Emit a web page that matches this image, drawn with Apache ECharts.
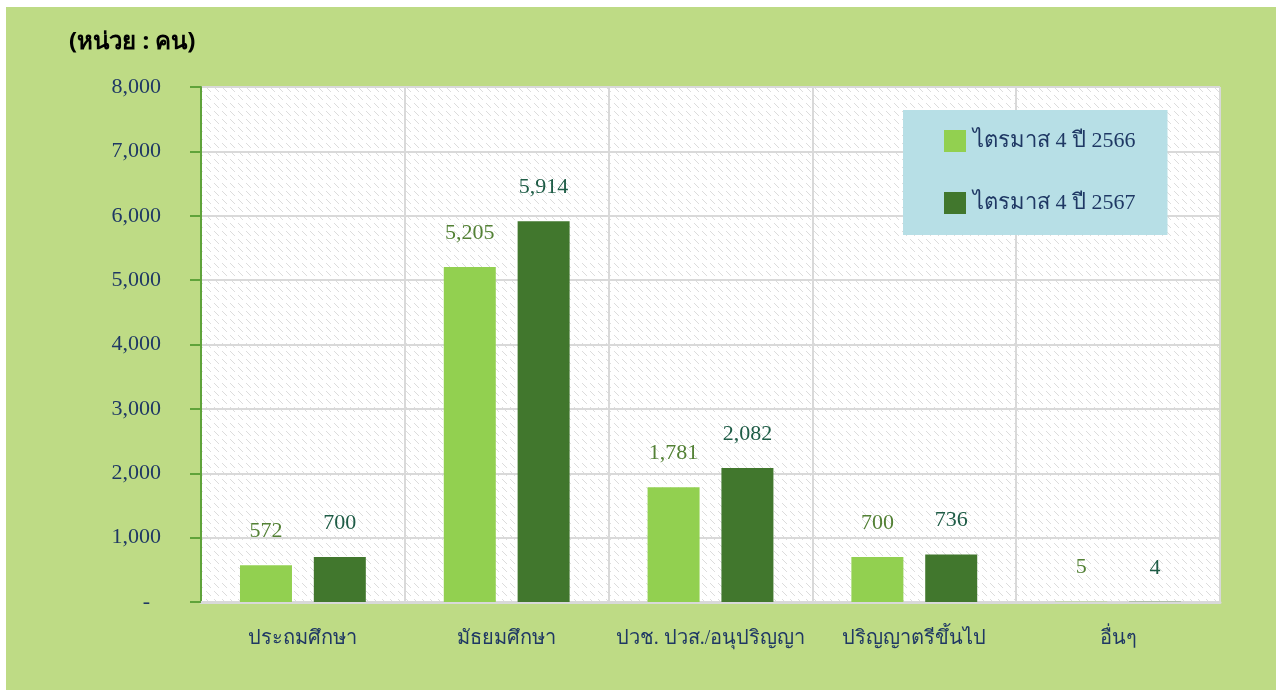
<!DOCTYPE html>
<html>
<head>
<meta charset="utf-8">
<script src="https://cdn.jsdelivr.net/npm/echarts@6/dist/echarts.min.js"></script>
<style>
  html, body { margin: 0; padding: 0; background: #ffffff; }
  #chart { position: absolute; left: 6px; top: 7px; width: 1270px; height: 683px; background: #bedb85; }
</style>
</head>
<body>
<div id="chart"></div>
<script>
// Data
const categories = ['ประถมศึกษา', 'มัธยมศึกษา', 'ปวช. ปวส./อนุปริญญา', 'ปริญญาตรีขึ้นไป', 'อื่นๆ'];
const seriesNames = ['ไตรมาส 4 ปี 2566', 'ไตรมาส 4 ปี 2567'];
const values2566 = [572, 5205, 1781, 700, 5];
const values2567 = [700, 5914, 2082, 736, 4];
const yMin = 0;
const yMax = 8000;
const yStep = 1000;

// Hatched plot-area fill (white with light gray dashed diagonals)
function makeHatch() {
    const c = document.createElement('canvas');
    c.width = 8;
    c.height = 8;
    const ctx = c.getContext('2d');
    ctx.fillStyle = '#ffffff';
    ctx.fillRect(0, 0, 8, 8);
    ctx.fillStyle = '#dcdcdc';
    for (let i = 0; i < 5; i++) {
        ctx.fillRect(i, i, 1, 1);
    }
    return c;
}

const serif = '"Liberation Serif", "Times New Roman", serif';
const navy = '#1f3864';

const chart = echarts.init(document.getElementById('chart'), null, { renderer: 'canvas' });

const fmt = v => v === 0 ? '-  ' : v.toLocaleString('en-US');

chart.setOption({
    animation: false,
    backgroundColor: '#bedb85',
    title: {
        text: '(หน่วย : คน)',
        left: 58,
        top: 18,
        textStyle: { fontSize: 24, fontWeight: 'bold', color: '#000000', fontFamily: '"Noto Sans", sans-serif' }
    },
    legend: {
        data: seriesNames,
        orient: 'vertical',
        left: 897,
        top: 103,
        backgroundColor: '#b7dfe6',
        padding: [20, 32, 21, 41],
        itemGap: 40,
        itemWidth: 22,
        itemHeight: 22,
        icon: 'rect',
        textStyle: { fontSize: 22, color: navy, fontFamily: serif, padding: [0, 0, 0, 2] }
    },
    grid: {
        left: 195,
        top: 80,
        right: 56,
        bottom: 88,
        show: true,
        borderWidth: 0,
        backgroundColor: { image: makeHatch(), repeat: 'repeat' }
    },
    xAxis: {
        type: 'category',
        data: categories,
        axisLine: { lineStyle: { color: '#d9d9d9', width: 3 } },
        axisTick: { show: false },
        splitLine: { show: true, interval: 0, lineStyle: { color: '#d9d9d9', width: 2 } },
        axisLabel: { interval: 0, color: navy, fontSize: 20, fontFamily: serif, margin: 27 }
    },
    yAxis: {
        type: 'value',
        min: yMin,
        max: yMax,
        interval: yStep,
        axisLine: { show: true, lineStyle: { color: '#5fa33a', width: 2 } },
        axisTick: { show: true, length: 11, lineStyle: { color: '#5fa33a', width: 2 } },
        splitLine: { lineStyle: { color: '#d9d9d9', width: 2 } },
        axisLabel: { color: navy, fontSize: 22, fontFamily: serif, margin: 40, formatter: fmt }
    },
    series: [
        {
            name: seriesNames[0],
            type: 'bar',
            data: values2566,
            barWidth: 52,
            barGap: '42%',
            itemStyle: { color: '#92d050' },
            label: {
                show: true, position: 'top', distance: 23,
                color: '#538135', fontSize: 22, fontFamily: serif,
                formatter: p => fmt(p.value)
            }
        },
        {
            name: seriesNames[1],
            type: 'bar',
            data: values2567,
            barWidth: 52,
            itemStyle: { color: '#41772d' },
            label: {
                show: true, position: 'top', distance: 23,
                color: '#1e5c46', fontSize: 22, fontFamily: serif,
                formatter: p => fmt(p.value)
            }
        }
    ]
});
</script>
</body>
</html>
